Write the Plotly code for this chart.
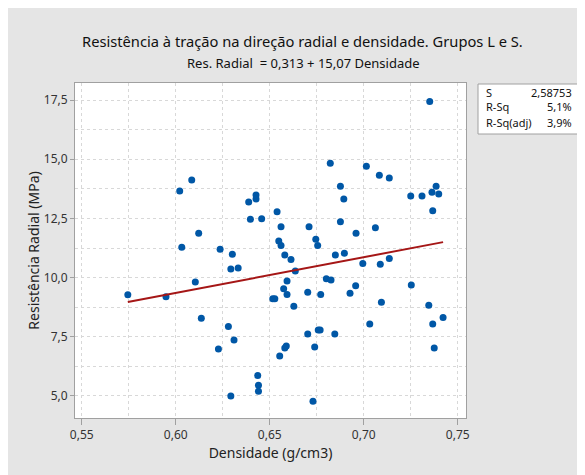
import plotly.graph_objects as go

densidade = [0.6085, 0.6021, 0.6427, 0.6427, 0.6388, 0.6539, 0.6397, 0.6457, 0.6122, 0.6560,
             0.6548, 0.6560, 0.6032, 0.6236, 0.6301, 0.7351, 0.6822, 0.7014, 0.7083, 0.7136,
             0.6876, 0.6894, 0.7250, 0.7310, 0.7363, 0.7385, 0.7399, 0.7367, 0.6876, 0.6709,
             0.7062, 0.6959, 0.6745, 0.6755, 0.6580, 0.6613, 0.6849, 0.6897, 0.7136, 0.6995,
             0.7088, 0.6636, 0.6592, 0.6801, 0.6826, 0.7253, 0.6957, 0.6574, 0.6592, 0.6516,
             0.6527, 0.6702, 0.6771, 0.6927, 0.6628, 0.7094, 0.7346, 0.7422, 0.7367, 0.7032,
             0.6702, 0.6758, 0.6768, 0.6846, 0.7375, 0.6739, 0.6580, 0.6588, 0.6553, 0.6730,
             0.5745, 0.5948, 0.6104, 0.6293, 0.6332, 0.6136, 0.6280, 0.6310, 0.6227, 0.6436,
             0.6440, 0.6440, 0.6293]
res_radial = [14.12, 13.66, 13.49, 13.32, 13.19, 12.78, 12.46, 12.49, 11.87, 12.15,
              11.55, 11.36, 11.28, 11.20, 10.99, 17.44, 14.83, 14.70, 14.32, 14.21,
              13.86, 13.32, 13.45, 13.45, 13.61, 13.86, 13.53, 12.82, 12.36, 12.15,
              12.11, 11.87, 11.62, 11.36, 10.95, 10.77, 10.95, 11.03, 10.81, 10.60,
              10.56, 10.28, 9.86, 9.95, 9.90, 9.69, 9.66, 9.53, 9.29, 9.11,
              9.11, 9.38, 9.29, 9.34, 8.79, 8.96, 8.83, 8.32, 8.04, 8.04,
              7.62, 7.79, 7.79, 7.62, 7.03, 7.07, 7.03, 7.11, 6.69, 4.78,
              9.28, 9.19, 9.81, 10.36, 10.41, 8.28, 7.94, 7.36, 6.98, 5.87,
              5.45, 5.20, 5.00]

intercept = 0.313
slope = 15.07
stat_labels = ["S", "R-Sq", "R-Sq(adj)"]
stat_values = ["2,58753", "5,1%", "3,9%"]

title_text = "Resistência à tração na direção radial e densidade. Grupos L e S."
subtitle_text = "Res. Radial  = 0,313 + 15,07 Densidade"

x_fit = [min(densidade), max(densidade)]
y_fit = [intercept + slope * v for v in x_fit]

FONT = "Noto Sans"
OFF = 8  # page body offset
W, H = 585, 475
# plot area in screen pixels: x 75..466, y 83..418
L = 75 - OFF
T = 83 - OFF
R = W - (466 - OFF)
B = H - (418 - OFF)
pw, ph = W - L - R, H - T - B

def px(xs):
    return (xs - OFF - L) / pw

def py(ys):
    return (H - B - (ys - OFF)) / ph

fig = go.Figure()
fig.add_trace(go.Scatter(x=densidade, y=res_radial, mode="markers",
                         marker=dict(color="#0057A6", size=7), showlegend=False,
                         hoverinfo="x+y"))
fig.add_trace(go.Scatter(x=x_fit, y=y_fit, mode="lines",
                         line=dict(color="#A51616", width=2), showlegend=False))

grid = dict(showgrid=True, gridcolor="#D8D8D8", gridwidth=1, griddash="3px,3px")
fig.update_xaxes(range=[0.5464, 0.7544], dtick=0.05, tick0=0.55, tickformat=".2f",
                 showline=True, linecolor="#A0A0A0", linewidth=1, mirror=True,
                 ticks="outside", ticklen=6, tickcolor="#A0A0A0", zeroline=False,
                 minor=dict(dtick=0.025, showgrid=True, gridcolor="#D8D8D8", griddash="3px,3px"),
                 tickfont=dict(family=FONT, size=12, color="#333333"),
                 title=dict(text="Densidade (g/cm3)", font=dict(family=FONT, size=14, color="#222222"), standoff=4),
                 **grid)
fig.update_yaxes(range=[4.07, 18.22], dtick=2.5, tick0=5, tickformat=".1f",
                 showline=True, linecolor="#A0A0A0", linewidth=1, mirror=True,
                 ticks="outside", ticklen=4, tickcolor="#A0A0A0", zeroline=False,
                 minor=dict(dtick=1.25, showgrid=True, gridcolor="#D8D8D8", griddash="3px,3px"),
                 tickfont=dict(family=FONT, size=12, color="#333333"),
                 title=dict(text="Resistência Radial (MPa)", font=dict(family=FONT, size=14, color="#222222"), standoff=0),
                 **grid)

shapes = [
    dict(type="rect", xref="paper", yref="paper", x0=px(478), x1=px(579), y0=py(134), y1=py(84),
         fillcolor="white", line=dict(color="#A0A0A0", width=1)),
]

annotations = [
    dict(text=title_text, xref="paper", yref="paper", x=px(302.5), y=py(41), showarrow=False,
         xanchor="center", yanchor="middle", font=dict(family=FONT, size=14.7, color="#111111")),
    dict(text=subtitle_text, xref="paper", yref="paper", x=px(303.5), y=py(63), showarrow=False,
         xanchor="center", yanchor="middle", font=dict(family=FONT, size=13, color="#111111")),
]
row_y = [92, 107, 122]
for lab, val, yy in zip(stat_labels, stat_values, row_y):
    annotations.append(dict(text=lab, xref="paper", yref="paper", x=px(484), y=py(yy), showarrow=False,
                            xanchor="left", yanchor="middle", font=dict(family=FONT, size=11, color="#111111")))
    annotations.append(dict(text=val, xref="paper", yref="paper", x=px(574), y=py(yy), showarrow=False,
                            xanchor="right", yanchor="middle", font=dict(family=FONT, size=11, color="#111111")))

fig.update_layout(width=W, height=H, margin=dict(l=L, r=R, t=T, b=B, autoexpand=False),
                  paper_bgcolor="#E5E5E5", plot_bgcolor="white", separators=",.",
                  shapes=shapes, annotations=annotations, showlegend=False)

fig.write_html("out.html")
